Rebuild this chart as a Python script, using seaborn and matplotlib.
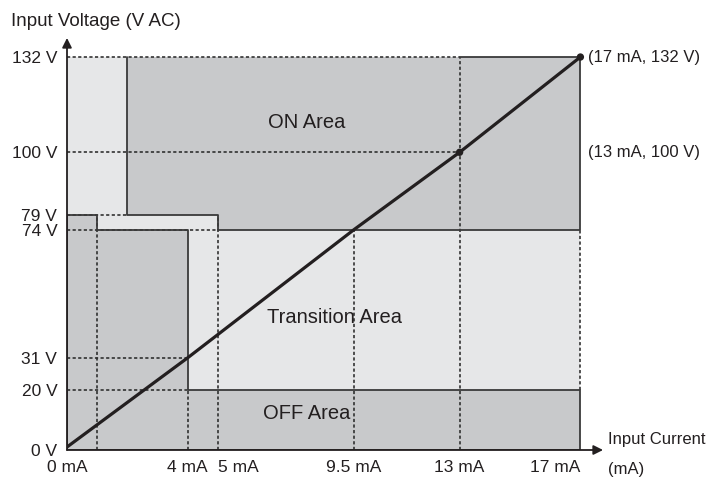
import seaborn as sns
import matplotlib.pyplot as plt
from matplotlib.patches import Polygon, Rectangle

# characteristic line: input current (mA) vs input voltage (V AC)
current = [0, 4, 9.5, 13, 17]
voltage = [1, 31, 74, 100, 132]
marked_current = [13, 17]
marked_voltage = [100, 132]

x_ticks = [0, 4, 5, 9.5, 13, 17]
x_labels = ["0 mA", "4 mA", "5 mA", "9.5 mA", "13 mA", "17 mA"]
y_ticks = [0, 20, 31, 74, 79, 100, 132]
y_labels = ["0 V", "20 V", "31 V", "74 V", "79 V", "100 V", "132 V"]

# area outlines (mA, V)
on_area = [(2, 132), (17, 132), (17, 74), (5, 74), (5, 79), (2, 79)]
on_edge = [(13, 132), (17, 132), (17, 74), (5, 74), (5, 79), (2, 79), (2, 132)]
off_area = [(0, 0), (17, 0), (17, 20), (4, 20), (4, 74), (1, 74), (1, 79), (0, 79)]

# dashed guide lines: (value, start, end)
h_guides = [(132, 0, 13), (100, 0, 13), (79, 0, 2), (74, 0, 5), (31, 0, 4), (20, 0, 4)]
v_guides = [(1, 0, 79), (4, 0, 20), (5, 0, 79), (9.5, 0, 74), (13, 0, 132), (17, 20, 74)]

sns.set_style("white")
plt.rcParams['font.family'] = ['Liberation Sans', 'DejaVu Sans']

light = "#e6e7e8"
dark = "#c8c9cb"
ink = "#231f20"
edge = "#3a3a3a"

fig = plt.figure(figsize=(7.12, 4.79), dpi=100)
ax = fig.add_axes([67 / 712, 29 / 479, 543.6 / 712, 416.8 / 479])
ax.set_xlim(0, 18)
ax.set_ylim(0, 140)
for s in ax.spines.values():
    s.set_visible(False)

ax.add_patch(Rectangle((0, 0), 17, 132, facecolor=light, edgecolor="none", zorder=1))
ax.add_patch(Polygon(on_area, closed=True, facecolor=dark, edgecolor="none", zorder=2))
ax.add_patch(Polygon(off_area, closed=True, facecolor=dark, edgecolor="none", zorder=2))

dash = (0, (2, 1.5))
for y, x0, x1 in h_guides:
    ax.plot([x0, x1], [y, y], color="#2a2a2a", lw=1.15, ls=dash, zorder=3)
for x, y0, y1 in v_guides:
    ax.plot([x, x], [y0, y1], color="#2a2a2a", lw=1.15, ls=dash, zorder=3)

ax.plot([p[0] for p in on_edge], [p[1] for p in on_edge], color=edge, lw=1.3, zorder=4)
off_closed = off_area + [off_area[0]]
ax.plot([p[0] for p in off_closed], [p[1] for p in off_closed], color=edge, lw=1.3, zorder=4)

sns.lineplot(x=current, y=voltage, color=ink, lw=2.3, ax=ax, zorder=5)
sns.scatterplot(x=marked_current, y=marked_voltage, color=ink, s=28, ax=ax,
                zorder=6, edgecolor="none", clip_on=False)

# axes with arrow heads
arrow = dict(arrowstyle="-|>", color=ink, lw=1.3, mutation_scale=14, shrinkA=0, shrinkB=0)
ax.annotate("", xy=(17.75, 0), xytext=(0, 0), arrowprops=arrow, annotation_clip=False, zorder=7)
ax.annotate("", xy=(0, 138.4), xytext=(0, 0), arrowprops=arrow, annotation_clip=False, zorder=7)

ax.set_xticks(x_ticks)
ax.set_xticklabels(x_labels)
ax.set_yticks(y_ticks)
ax.set_yticklabels(y_labels)
ax.tick_params(axis="both", length=0, labelsize=12.5, colors=ink)
ax.tick_params(axis="x", pad=7)
ax.tick_params(axis="y", pad=7)
xl = ax.get_xticklabels()
xl[2].set_ha("left")
xl[5].set_ha("right")

fig.text(11 / 712, 1 - 22 / 479, "Input Voltage (V AC)", fontsize=13.5, va="center", color=ink)
ax.text(17.9, 3.6, "Input Current", fontsize=12, va="center", ha="left", color=ink, clip_on=False)
ax.text(17.9, -6.6, "(mA)", fontsize=12, va="center", ha="left", color=ink, clip_on=False)
ax.text(17.25, 132, "(17 mA, 132 V)", fontsize=12, va="center", ha="left", color=ink)
ax.text(17.25, 100, "(13 mA, 100 V)", fontsize=12, va="center", ha="left", color=ink)

ax.text(7.95, 110, "ON Area", fontsize=14.5, ha="center", va="center", color=ink, zorder=8)
ax.text(8.87, 44.5, "Transition Area", fontsize=14.5, ha="center", va="center", color=ink, zorder=8)
ax.text(7.95, 12.2, "OFF Area", fontsize=14.5, ha="center", va="center", color=ink, zorder=8)

fig.savefig("out.png", dpi=100)
